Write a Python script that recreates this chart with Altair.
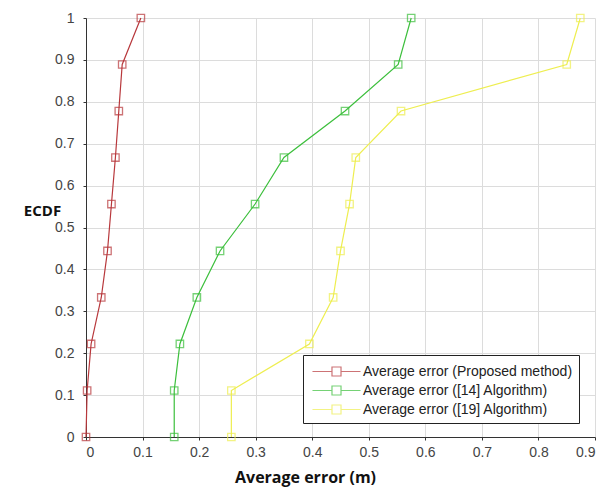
import altair as alt
import pandas as pd

ecdf = [0, 0.111, 0.222, 0.333, 0.444, 0.556, 0.667, 0.778, 0.889, 1.0]
proposed = [0.0, 0.002, 0.009, 0.027, 0.038, 0.045, 0.052, 0.058, 0.064, 0.097]
alg14 = [0.156, 0.156, 0.166, 0.196, 0.237, 0.299, 0.350, 0.458, 0.552, 0.575]
alg19 = [0.257, 0.257, 0.395, 0.437, 0.450, 0.466, 0.477, 0.557, 0.850, 0.874]

names = ["Average error (Proposed method)",
         "Average error  ([14]  Algorithm)",
         "Average error  ([19] Algorithm)"]
colors = ["#b8383c", "#3cbf3c", "#eeee50"]

rows = []
for name, xs in zip(names, [proposed, alg14, alg19]):
    for x, y in zip(xs, ecdf):
        rows.append({"series": name, "err": x, "ecdf": y})
df = pd.DataFrame(rows)

color = alt.Color("series:N", sort=names,
                  scale=alt.Scale(domain=names, range=colors),
                  legend=alt.Legend(
                      title=None, orient="none", legendX=217, legendY=337,
                      direction="vertical",
                      strokeColor="#222", fillColor="white", padding=6,
                      labelFont="Liberation Sans", labelFontSize=14,
                      labelColor="#222", rowPadding=1, labelLimit=320,
                      symbolType="M-2.5,0L-0.47,0M0.47,0L2.5,0M-0.47,-0.47L0.47,-0.47L0.47,0.47L-0.47,0.47Z",
                      symbolSize=369, symbolStrokeWidth=1.2,
                      symbolOffset=17, labelOffset=16,
                      symbolFillColor="transparent"))

x = alt.X("err:Q", scale=alt.Scale(domain=[0, 0.9], nice=False),
          axis=alt.Axis(values=[i / 10 for i in range(10)], format=".1~f",
                        title="Average error (m)", titleX=219, titleY=40,
                        titleFont="Open Sans", titleFontSize=16,
                        titleFontWeight="bold", titleColor="#111",
                        titleBaseline="middle", labelPadding=5))
y = alt.Y("ecdf:Q", scale=alt.Scale(domain=[0, 1], nice=False),
          axis=alt.Axis(values=[i / 10 for i in range(11)], format=".1~f",
                        title="ECDF", titleAngle=0, titleX=-44, titleY=192,
                        titleAlign="center", titleBaseline="middle",
                        titleFont="Open Sans", titleFontSize=15,
                        titleFontWeight="bold", titleColor="#111",
                        labelPadding=9))

lines = alt.Chart(df).mark_line(strokeWidth=1.2).encode(x=x, y=y, color=color,
                                                        detail="series:N")
points = alt.Chart(df).mark_point(shape="square", size=55, filled=False,
                                  strokeWidth=1.3).encode(x=x, y=y, color=color)

chart = alt.layer(lines, points).properties(
    width=509, height=419,
    padding={"left": 86, "top": 18, "right": 13, "bottom": 52},
    autosize=alt.AutoSizeParams(type="none"),
    background="white",
).configure_view(stroke=None).configure_axis(
    labelFont="Liberation Sans", labelFontSize=14, labelColor="#444",
    gridColor="#dcdcdc", gridOpacity=1, domainColor="#333", tickColor="#333",
    tickSize=3,
)

chart.save("out.html", embed_options={"renderer": "svg", "actions": False})
